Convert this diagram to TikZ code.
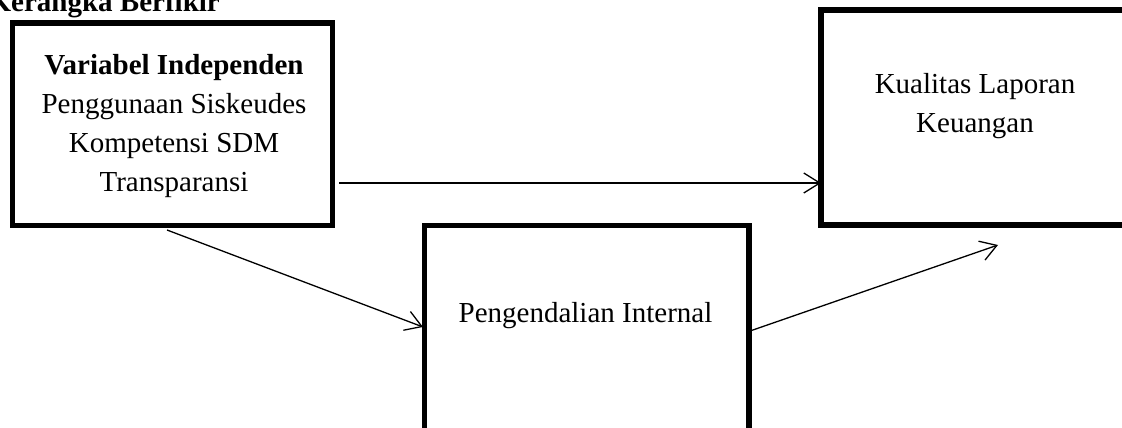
\documentclass[tikz,border=0pt]{standalone}
\usepackage{fontspec}
\setmainfont{Liberation Serif}
\usetikzlibrary{arrows.meta}
\tikzset{
  box/.style={draw, line width=5.5pt, rectangle, inner sep=0pt, outer sep=0pt},
  conn/.style={line width=1.3pt, -{Straight Barb[length=16pt,width=20pt,line width=1.3pt]}},
  txt/.style={font=\fontsize{29}{39.3}\selectfont, align=center, inner sep=0pt},
}
\begin{document}
\begin{tikzpicture}[x=1pt,y=1pt]
\useasboundingbox (0,0) rectangle (1122,428);
\clip (0,0) rectangle (1122,428);
\node[box, minimum width=320pt, minimum height=202.5pt] (L) at (172.5,303.75) {};
\node[box, minimum width=324.5pt, minimum height=219.5pt] (M) at (586.75,92.75) {};
\node[box, minimum width=308pt, minimum height=215pt] (R) at (975,310.5) {};
\node[txt, anchor=base east, font=\fontsize{29}{39.3}\selectfont\bfseries] (title) at (220,416) {Kerangka Berfikir};
\node[txt, anchor=base] (Lt) at (174,236) {\textbf{Variabel Independen}\\Penggunaan Siskeudes\\Kompetensi SDM\\Transparansi};
\node[txt, anchor=base] (Rt) at (975,295) {Kualitas Laporan\\Keuangan};
\node[txt, anchor=base] (Mt) at (585.5,105) {Pengendalian Internal};
\coordinate (e3) at (998,183);
\draw[conn] ([xshift=6.5pt,yshift=-58.75pt]L.east) -- ([yshift=-65.5pt]R.west);
\draw[conn] ([xshift=-5.5pt,yshift=-4.5pt]L.south) -- ([xshift=-1.5pt,yshift=8.25pt]M.west);
\draw[conn] ([xshift=1pt,yshift=4.25pt]M.east) -- (e3);
\end{tikzpicture}
\end{document}
